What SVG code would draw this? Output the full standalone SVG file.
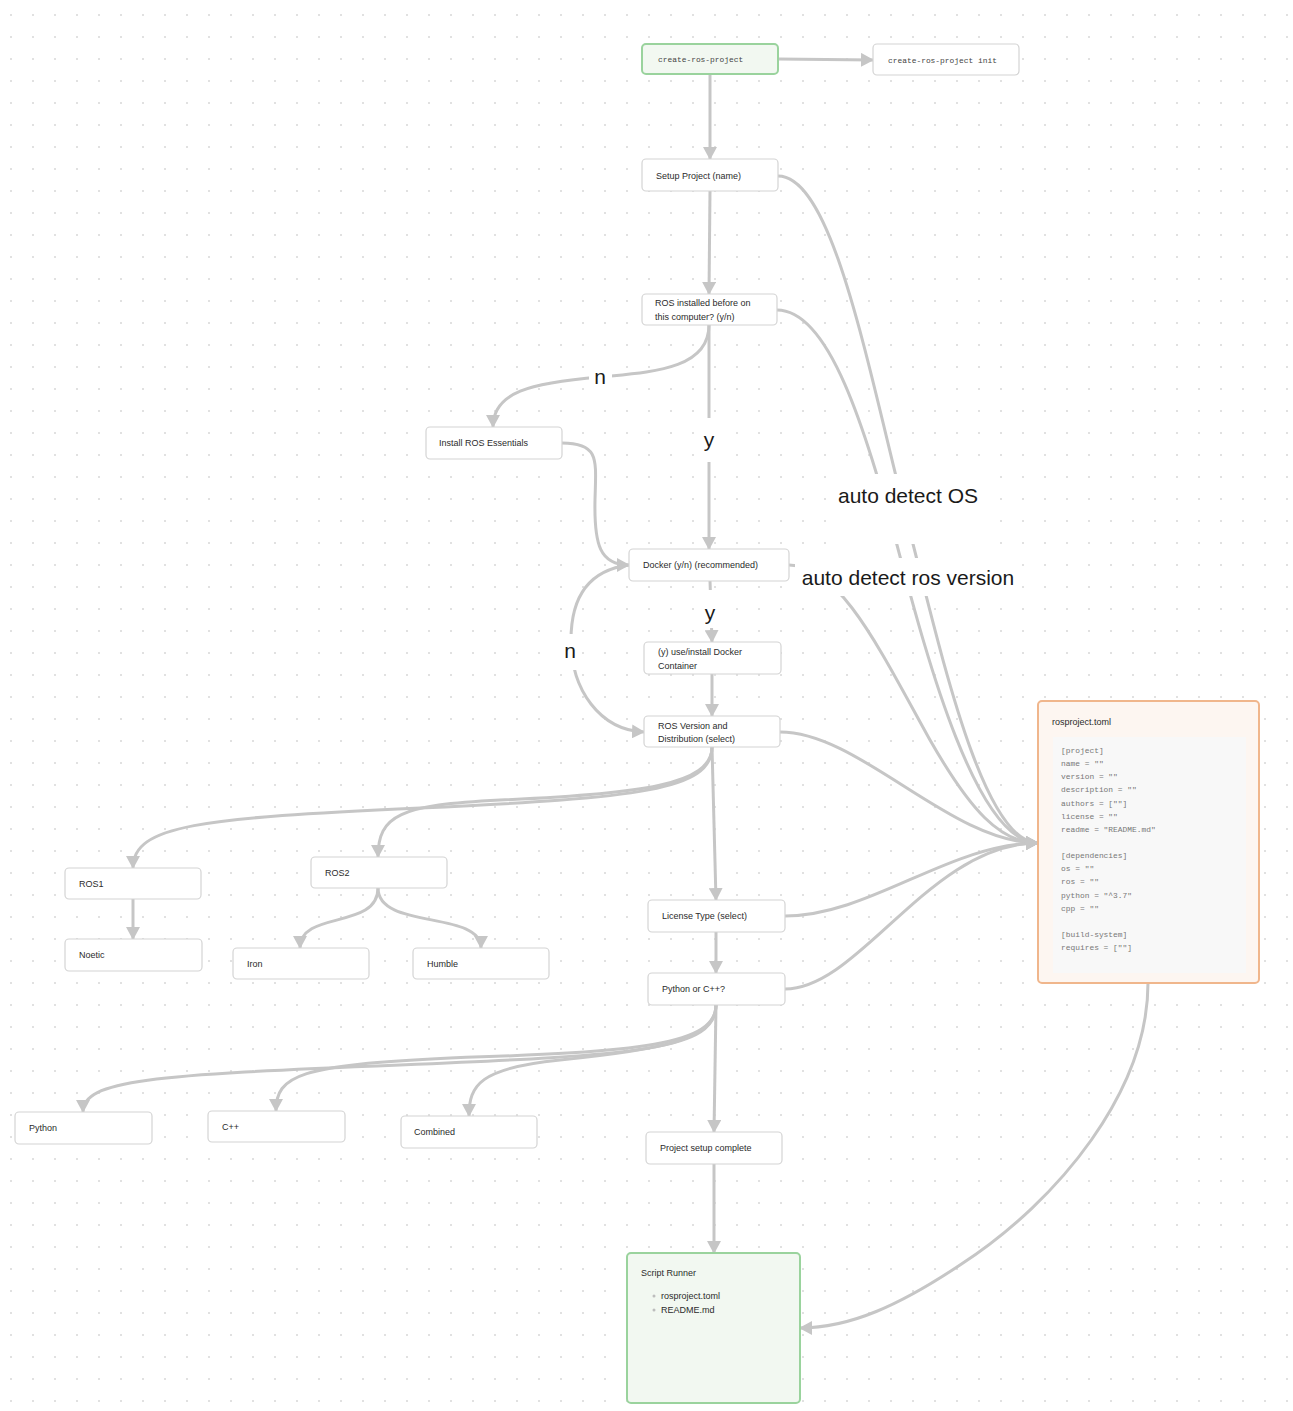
<svg xmlns="http://www.w3.org/2000/svg" width="1293" height="1411" viewBox="0 0 1293 1411">
<defs>
<pattern id="dots" patternUnits="userSpaceOnUse" width="22" height="22">
<circle cx="11" cy="15" r="1.1" fill="#dadada"/>
</pattern>
<marker id="arr" markerUnits="userSpaceOnUse" markerWidth="14" markerHeight="14" refX="12" refY="7" orient="auto">
<path d="M0,0 L13,7 L0,14 z" fill="#c6c6c6"/>
</marker>
<style>
.node rect.box{fill:#ffffff;stroke:#d4d4d4;stroke-width:1.2}
.green rect.box{fill:#f2f8f1;stroke:#9ad39d;stroke-width:2}
.orange rect.box{fill:#fdf6f1;stroke:#f0b68c;stroke-width:2}
.t{font-family:"Liberation Sans",Arial,sans-serif;font-size:9px;fill:#2b2b2b}
.m{font-family:"Liberation Mono","DejaVu Sans Mono",monospace;font-size:7.9px;fill:#444}
.code{font-family:"Liberation Mono","DejaVu Sans Mono",monospace;font-size:7.9px;fill:#777777}
.e{fill:none;stroke:#c6c6c6;stroke-width:3;marker-end:url(#arr)}
.lbl{font-family:"Liberation Sans",Arial,sans-serif;font-size:21px;fill:#1a1a1a;text-anchor:middle}
.lbg{fill:#ffffff}
</style>
</defs>
<rect width="1293" height="1411" fill="#ffffff"/>
<rect width="1293" height="1411" fill="url(#dots)"/>

<g id="connectors">
<path class="e" d="M778,59 L873,60"/>
<path class="e" d="M710,74 L710,159"/>
<path class="e" d="M710,191 L709,294"/>
<path class="e" d="M709,325 C709,370 650,372 600,377 C530,383 493,392 493,427"/>
<path class="e" d="M709,325 L709,549"/>
<path class="e" d="M562,443 C600,443 596,460 595,500 C594,545 600,565 629,565"/>
<path class="e" d="M710,581 L712,642"/>
<path class="e" d="M629,565 C590,570 571,595 571,640 C571,690 600,730 644,732"/>
<path class="e" d="M712,674 L712,716"/>
<path class="e" d="M712,747 C712,790 640,798 420,808 C200,818 133,825 133,868"/>
<path class="e" d="M712,747 C712,785 640,794 500,800 C400,805 378,815 378,857"/>
<path class="e" d="M712,747 L716,900"/>
<path class="e" d="M133,899 L133,939"/>
<path class="e" d="M378,888 C378,930 300,910 300,948"/>
<path class="e" d="M378,888 C378,930 481,910 481,948"/>
<path class="e" d="M778,176 C835,176 870,380 912,540 C945,670 985,843 1038,843"/>
<path class="e" d="M777,310 C830,310 865,430 897,545 C925,650 975,843 1038,843"/>
<path class="e" d="M789,565 C840,565 880,650 930,740 C970,810 1000,843 1038,843"/>
<path class="e" d="M780,732 C860,732 950,843 1038,843"/>
<path class="e" d="M785,916 C870,916 950,843 1038,843"/>
<path class="e" d="M785,989 C860,989 930,843 1038,843"/>
<path class="e" d="M716,932 L716,973"/>
<path class="e" d="M716,1005 C716,1050 640,1055 400,1065 C150,1075 83,1080 83,1112"/>
<path class="e" d="M716,1005 C716,1045 640,1052 450,1058 C300,1065 276,1075 276,1111"/>
<path class="e" d="M716,1005 C716,1040 660,1050 560,1060 C480,1068 469,1085 469,1116"/>
<path class="e" d="M716,1005 L714,1132"/>
<path class="e" d="M714,1164 L714,1253"/>
<path class="e" d="M1148,983 C1148,1090 1060,1200 960,1265 C900,1305 850,1328 800,1328"/>
</g>

<g id="labels">
<rect class="lbg" x="589" y="364" width="23" height="26"/>
<text class="lbl" x="600" y="384">n</text>
<rect class="lbg" x="698" y="418" width="22" height="44"/>
<text class="lbl" x="709" y="447">y</text>
<rect class="lbg" x="828" y="474" width="160" height="70"/>
<text class="lbl" x="908" y="503">auto detect OS</text>
<rect class="lbg" x="795" y="558" width="225" height="38"/>
<text class="lbl" x="908" y="585">auto detect ros version</text>
<rect class="lbg" x="699" y="590" width="22" height="38"/>
<text class="lbl" x="710" y="620">y</text>
<rect class="lbg" x="559" y="634" width="23" height="36"/>
<text class="lbl" x="570" y="658">n</text>
</g>

<g id="n_create" class="node green"><rect class="box" x="642" y="44" width="136" height="30" rx="4"/><text class="m" x="658" y="62">create-ros-project</text></g>
<g id="n_init" class="node"><rect class="box" x="873" y="44" width="146" height="31" rx="4"/><text class="m" x="888" y="63">create-ros-project init</text></g>
<g id="n_setup" class="node"><rect class="box" x="642" y="159" width="136" height="32" rx="4"/><text class="t" x="656" y="179">Setup Project (name)</text></g>
<g id="n_rosinst" class="node"><rect class="box" x="642" y="294" width="135" height="31" rx="4"/><text class="t" x="655" y="306">ROS installed before on</text><text class="t" x="655" y="320">this computer? (y/n)</text></g>
<g id="n_install" class="node"><rect class="box" x="426" y="427" width="136" height="32" rx="4"/><text class="t" x="439" y="446">Install ROS Essentials</text></g>
<g id="n_docker" class="node"><rect class="box" x="629" y="549" width="160" height="32" rx="4"/><text class="t" x="643" y="568">Docker (y/n) (recommended)</text></g>
<g id="n_dockerc" class="node"><rect class="box" x="644" y="642" width="137" height="32" rx="4"/><text class="t" x="658" y="655">(y) use/install Docker</text><text class="t" x="658" y="669">Container</text></g>
<g id="n_rosver" class="node"><rect class="box" x="644" y="716" width="136" height="31" rx="4"/><text class="t" x="658" y="729">ROS Version and</text><text class="t" x="658" y="742">Distribution (select)</text></g>
<g id="n_toml" class="node orange"><rect class="box" x="1038" y="701" width="221" height="282" rx="4"/><text class="t" x="1052" y="725">rosproject.toml</text><rect x="1053" y="737" width="193" height="236" fill="#f8f8f8"/>
<text class="code" x="1061" y="753">[project]</text>
<text class="code" x="1061" y="766">name = ""</text>
<text class="code" x="1061" y="779">version = ""</text>
<text class="code" x="1061" y="792">description = ""</text>
<text class="code" x="1061" y="806">authors = [""]</text>
<text class="code" x="1061" y="819">license = ""</text>
<text class="code" x="1061" y="832">readme = "README.md"</text>
<text class="code" x="1061" y="858">[dependencies]</text>
<text class="code" x="1061" y="871">os = ""</text>
<text class="code" x="1061" y="884">ros = ""</text>
<text class="code" x="1061" y="898">python = "^3.7"</text>
<text class="code" x="1061" y="911">cpp = ""</text>
<text class="code" x="1061" y="937">[build-system]</text>
<text class="code" x="1061" y="950">requires = [""]</text>
</g>
<g id="n_ros1" class="node"><rect class="box" x="65" y="868" width="136" height="31" rx="4"/><text class="t" x="79" y="887">ROS1</text></g>
<g id="n_noetic" class="node"><rect class="box" x="65" y="939" width="137" height="32" rx="4"/><text class="t" x="79" y="958">Noetic</text></g>
<g id="n_ros2" class="node"><rect class="box" x="311" y="857" width="136" height="31" rx="4"/><text class="t" x="325" y="876">ROS2</text></g>
<g id="n_iron" class="node"><rect class="box" x="233" y="948" width="136" height="31" rx="4"/><text class="t" x="247" y="967">Iron</text></g>
<g id="n_humble" class="node"><rect class="box" x="413" y="948" width="136" height="31" rx="4"/><text class="t" x="427" y="967">Humble</text></g>
<g id="n_license" class="node"><rect class="box" x="648" y="900" width="137" height="32" rx="4"/><text class="t" x="662" y="919">License Type (select)</text></g>
<g id="n_pyorcpp" class="node"><rect class="box" x="648" y="973" width="137" height="32" rx="4"/><text class="t" x="662" y="992">Python or C++?</text></g>
<g id="n_python" class="node"><rect class="box" x="15" y="1112" width="137" height="32" rx="4"/><text class="t" x="29" y="1131">Python</text></g>
<g id="n_cpp" class="node"><rect class="box" x="208" y="1111" width="137" height="31" rx="4"/><text class="t" x="222" y="1130">C++</text></g>
<g id="n_combined" class="node"><rect class="box" x="401" y="1116" width="136" height="32" rx="4"/><text class="t" x="414" y="1135">Combined</text></g>
<g id="n_complete" class="node"><rect class="box" x="646" y="1132" width="136" height="32" rx="4"/><text class="t" x="660" y="1151">Project setup complete</text></g>
<g id="n_runner" class="node green"><rect class="box" x="627" y="1253" width="173" height="150" rx="4"/><text class="t" x="641" y="1276">Script Runner</text>
<circle cx="654" cy="1296" r="1.5" fill="#bdbdbd"/><text class="t" x="661" y="1299">rosproject.toml</text>
<circle cx="654" cy="1310" r="1.5" fill="#bdbdbd"/><text class="t" x="661" y="1313">README.md</text>
</g>
</svg>
